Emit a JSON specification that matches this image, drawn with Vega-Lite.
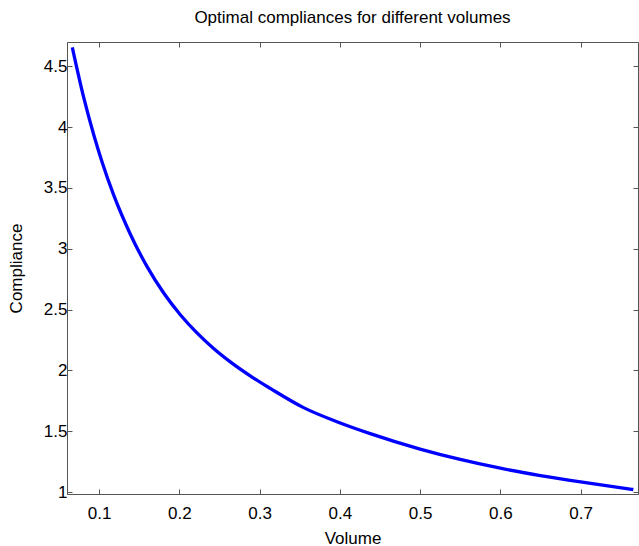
{
  "$schema": "https://vega.github.io/schema/vega-lite/v6.json",
  "autosize": {"type": "none"},
  "width": 571,
  "height": 452,
  "padding": {"left": 67, "top": 42, "right": 1, "bottom": 52},
  "background": "white",
  "title": {
    "text": "Optimal compliances for different volumes",
    "font": "Liberation Sans",
    "fontSize": 17,
    "fontWeight": "normal",
    "color": "black",
    "anchor": "middle",
    "baseline": "alphabetic",
    "offset": 1
  },
  "config": {
    "view": {"stroke": "#555555", "strokeWidth": 1},
    "axis": {
      "labelFont": "Liberation Sans",
      "titleFont": "Liberation Sans",
      "labelFontSize": 17,
      "titleFontSize": 17,
      "titleFontWeight": "normal",
      "labelColor": "black",
      "titleColor": "black",
      "domainColor": "#555555",
      "tickColor": "#555555",
      "grid": false,
      "tickSize": -5
    }
  },
  "data": {
    "values": [
      {"volume": 0.0666, "compliance": 4.656},
      {"volume": 0.0808, "compliance": 4.244},
      {"volume": 0.0933, "compliance": 3.938},
      {"volume": 0.1037, "compliance": 3.714},
      {"volume": 0.118, "compliance": 3.445},
      {"volume": 0.1391, "compliance": 3.118},
      {"volume": 0.1598, "compliance": 2.853},
      {"volume": 0.1805, "compliance": 2.636},
      {"volume": 0.2012, "compliance": 2.458},
      {"volume": 0.222, "compliance": 2.308},
      {"volume": 0.2427, "compliance": 2.18},
      {"volume": 0.2635, "compliance": 2.07},
      {"volume": 0.2925, "compliance": 1.937},
      {"volume": 0.3133, "compliance": 1.852},
      {"volume": 0.3548, "compliance": 1.694},
      {"volume": 0.3964, "compliance": 1.578},
      {"volume": 0.4379, "compliance": 1.48},
      {"volume": 0.5, "compliance": 1.353},
      {"volume": 0.55, "compliance": 1.268},
      {"volume": 0.6, "compliance": 1.196},
      {"volume": 0.65, "compliance": 1.136},
      {"volume": 0.7, "compliance": 1.0835},
      {"volume": 0.7658, "compliance": 1.021}
    ]
  },
  "resolve": {"axis": {"x": "independent", "y": "independent"}},
  "layer": [
    {
      "mark": {"type": "line", "color": "#0000ff", "strokeWidth": 3.3, "interpolate": "monotone"},
      "encoding": {
        "x": {
          "field": "volume", "type": "quantitative",
          "scale": {"domain": [0.06, 0.7716], "nice": false, "zero": false},
          "axis": {"title": "Volume", "values": [0.1, 0.2, 0.3, 0.4, 0.5, 0.6, 0.7], "format": "~g", "labelPadding": 16, "titlePadding": 9}
        },
        "y": {
          "field": "compliance", "type": "quantitative",
          "scale": {"domain": [0.984, 4.7], "nice": false, "zero": false},
          "axis": {"title": "Compliance", "values": [1, 1.5, 2, 2.5, 3, 3.5, 4, 4.5], "format": "~g", "labelPadding": 5, "titlePadding": 18}
        }
      }
    },
    {
      "mark": {"type": "line", "opacity": 0},
      "encoding": {
        "x": {
          "field": "volume", "type": "quantitative",
          "axis": {"orient": "top", "title": null, "labels": false, "domain": false, "values": [0.1, 0.2, 0.3, 0.4, 0.5, 0.6, 0.7]}
        },
        "y": {
          "field": "compliance", "type": "quantitative",
          "axis": {"orient": "right", "title": null, "labels": false, "domain": false, "values": [1, 1.5, 2, 2.5, 3, 3.5, 4, 4.5]}
        }
      }
    }
  ]
}
